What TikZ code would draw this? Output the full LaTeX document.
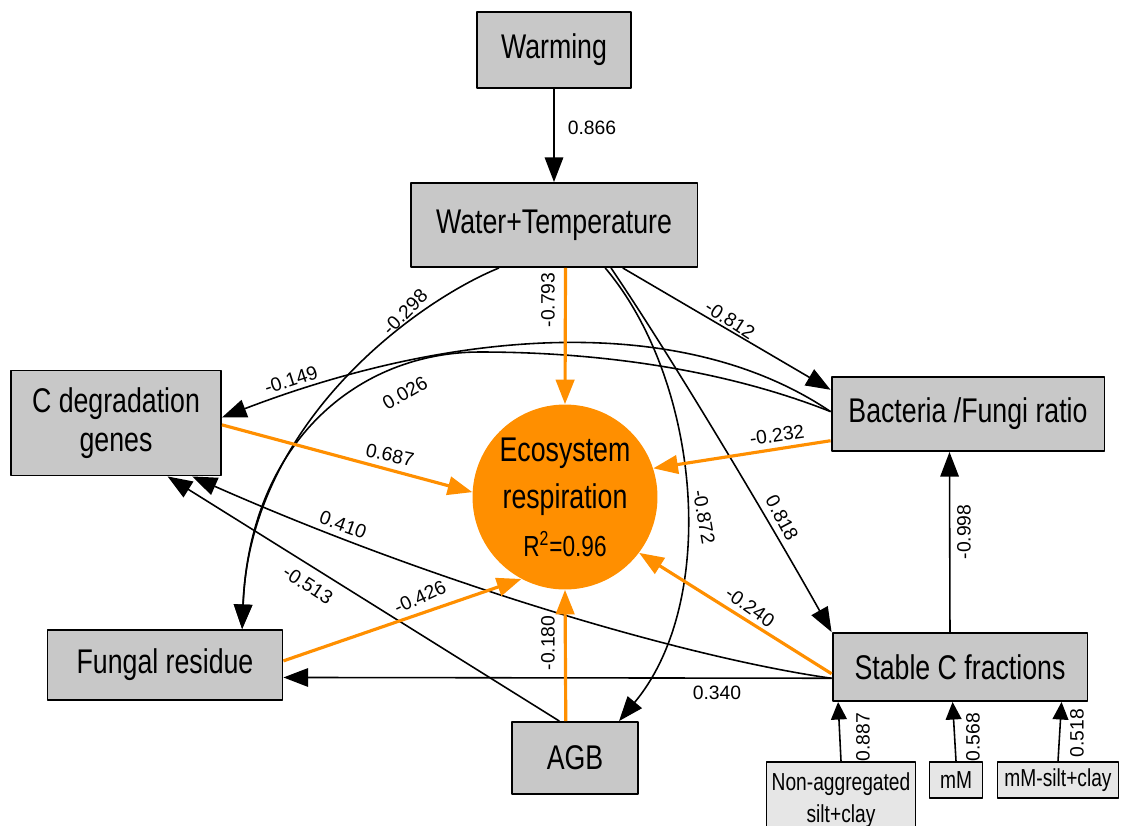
\documentclass[tikz,border=0pt]{standalone}
\usepackage{fontspec}
\setmainfont{Liberation Sans}
\newfontfamily\narrowfont{Liberation Sans}[FakeStretch=0.78]
\usetikzlibrary{arrows.meta}
\definecolor{ecoorange}{RGB}{255,143,0}
\definecolor{boxgray}{RGB}{200,200,200}
\definecolor{obsgray}{RGB}{230,230,230}
\begin{document}
\begin{tikzpicture}[x=0.02cm, y=-0.02cm, line join=round, >={Triangle[length=14pt,width=10.5pt]},
  var/.style={draw, line width=1.1pt, fill=boxgray, inner sep=0pt, align=center, font=\narrowfont\fontsize{19.5}{22.5}\selectfont},
  obs/.style={draw, line width=1pt, fill=obsgray, inner sep=0pt, align=center, font=\narrowfont\fontsize{14}{18}\selectfont},
  lnk/.style={->, line width=0.9pt},
  olnk/.style={->, draw=ecoorange, line width=1.8pt},
  slnk/.style={-{Triangle[length=10pt,width=9pt]}, line width=0.9pt},
  lbl/.style={inner sep=1pt, font=\fontsize{11}{13}\selectfont}]
\useasboundingbox (0,0) rectangle (1121,825);
% variables
\node[var, minimum width=3.08cm, minimum height=1.52cm] (warm) at (554,50) {Warming};
\node[var, minimum width=5.74cm, minimum height=1.68cm] (wt) at (554,225) {Water+Temperature};
\node[var, minimum width=4.2cm, minimum height=2.1cm] (cdeg) at (116,423) {C degradation\\genes};
\node[var, minimum width=5.46cm, minimum height=1.48cm] (bac) at (968,414) {Bacteria /Fungi ratio};
\node[var, minimum width=4.7cm, minimum height=1.4cm] (fung) at (165,665) {Fungal residue};
\node[var, minimum width=2.52cm, minimum height=1.44cm] (agb) at (575,758) {AGB};
\node[var, minimum width=5.1cm, minimum height=1.36cm] (stab) at (960,667) {Stable C fractions};
\node[obs, minimum width=2.98cm, minimum height=1.52cm] (nagg) at (841,800) {Non-aggregated\\silt+clay};
\node[obs, minimum width=1.06cm, minimum height=0.72cm] (mm) at (956,780) {mM};
\node[obs, minimum width=2.42cm, minimum height=0.72cm] (mmsc) at (1058,780) {mM-silt+clay};
\node[circle, fill=ecoorange, minimum size=3.7cm, inner sep=0pt, align=center,
  font=\narrowfont\fontsize{19.5}{27}\selectfont] (eco) at (565,497)
  {Ecosystem\\respiration\\{\fontsize{16.5}{18}\selectfont R\textsuperscript{2}=0.96}};
% black paths
\draw[lnk] (warm) -- (wt);
\draw[lnk] (wt.218) .. controls (420,300) and (250,420) .. (fung.25);
\draw[lnk] (bac.179) .. controls (700,360) and (560,352) .. (480,352)
  .. controls (360,352) and (250,440) .. (fung.25);
\draw[lnk] (bac.179) .. controls (680,310) and (450,330) .. (cdeg.3);
\draw[lnk] (wt.-32.5) -- (bac.170);
\draw[lnk] (wt.-40) .. controls (700,380) and (720,600) .. (agb.40);
\draw[lnk] (wt.-37) .. controls (680,370) and (780,540) .. (stab.north west);
\draw[lnk] (stab.185) .. controls (700,660) and (450,590) .. (cdeg.-35);
\draw[lnk] (agb.113) -- (cdeg.-46);
\draw[lnk] (stab.185) -- (fung.-6);
\draw[lnk] (stab.106) -- (bac.244);
\draw[slnk] (nagg.north) -- (stab.196);
\draw[slnk] (mm.north) -- (stab.258);
\draw[slnk] (mmsc.north) -- (stab.-19);
% orange paths
\draw[olnk] (wt.-75) -- (eco.north);
\draw[olnk] (cdeg.-1) -- (eco.177);
\draw[olnk] (bac.191) -- (eco.18);
\draw[olnk] (fung.2) -- (eco.242);
\draw[olnk] (agb.104) -- (eco.south);
\draw[olnk] (stab.183) -- (eco.-37);
% coefficients
\node[lbl] (c866) at (592,128) {0.866};
\node[lbl, rotate=90] (c793) at (548,300) {-0.793};
\node[lbl, rotate=45] (c298) at (405,312) {-0.298};
\node[lbl, rotate=18] (c149) at (291,380) {-0.149};
\node[lbl, rotate=30] (c026) at (405,393) {0.026};
\node[lbl, rotate=-12] (c687) at (390,455) {0.687};
\node[lbl, rotate=-33] (c812) at (730,320) {-0.812};
\node[lbl, rotate=8] (c232) at (777,435) {-0.232};
\node[lbl, rotate=-80] (c872) at (704,517) {-0.872};
\node[lbl, rotate=-62] (c818) at (782,518) {0.818};
\node[lbl, rotate=-20] (c410) at (343,525) {0.410};
\node[lbl, rotate=-33] (c513) at (308,585) {-0.513};
\node[lbl, rotate=25] (c426) at (420,597) {-0.426};
\node[lbl, rotate=90] (c180) at (548,643) {-0.180};
\node[lbl, rotate=-35] (c240) at (750,607) {-0.240};
\node[lbl] (c340) at (717,693) {0.340};
\node[lbl, rotate=90] (c998) at (964,532) {-0.998};
\node[lbl, rotate=90] (c887) at (863,737) {0.887};
\node[lbl, rotate=90] (c568) at (973,737) {0.568};
\node[lbl, rotate=90] (c518) at (1077,733) {0.518};
\end{tikzpicture}
\end{document}
